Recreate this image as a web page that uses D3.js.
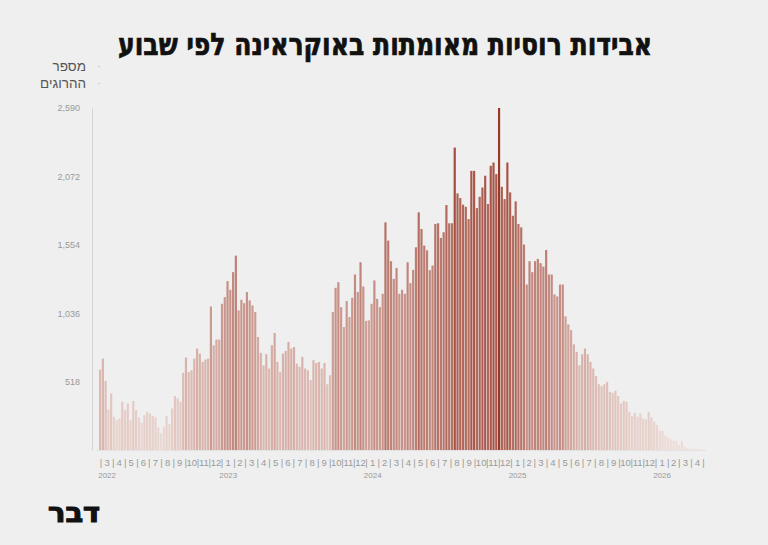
<!DOCTYPE html>
<html>
<head>
<meta charset="utf-8">
<script src="https://cdn.jsdelivr.net/npm/d3@7"></script>
<style>
  html, body { margin: 0; padding: 0; background: #efefef; }
  svg { display: block; }
</style>
</head>
<body>
<svg id="chart" width="768" height="545"></svg>
<script>
// Weekly confirmed Russian deaths, weeks starting 2022-02-24
const startWeek = "2022-02-24";
const weeklyDeaths = [
  609, 692, 523, 307, 428, 252, 226, 239, 365, 302,
  352, 226, 372, 302, 247, 206, 264, 289, 277, 257,
  247, 171, 126, 176, 257, 196, 315, 408, 390, 365,
  584, 700, 591, 604, 692, 768, 730, 667, 685, 692,
  1087, 793, 836, 836, 1107, 1158, 1279, 1213, 1347, 1472,
  1057, 1138, 1112, 1196, 1133, 1095, 1045, 856, 735, 640,
  725, 617, 793, 886, 667, 591, 730, 750, 818, 768,
  780, 654, 629, 705, 617, 604, 529, 680, 659, 667,
  617, 659, 498, 566, 1045, 1228, 1271, 1082, 931, 1128,
  1007, 1153, 1329, 1196, 1422, 1238, 977, 982, 1107, 1284,
  1145, 1082, 1183, 1724, 1586, 1430, 1296, 1379, 1183, 1213,
  1183, 1422, 1264, 1364, 1535, 1800, 1674, 1548, 1512, 1362,
  1397, 1712, 1717, 1606, 1649, 1855, 1717, 1717, 2290, 1943,
  1908, 1858, 1842, 1749, 2114, 2114, 1832, 1918, 1988, 2077,
  1863, 2152, 2177, 2089, 2590, 1993, 1900, 2177, 1951, 1774,
  1883, 1712, 1686, 1556, 1253, 1430, 1347, 1430, 1447, 1415,
  1389, 1515, 1329, 1329, 1178, 1163, 1253, 1253, 1012, 951,
  908, 800, 743, 642, 725, 768, 725, 667, 617, 559,
  498, 483, 498, 516, 440, 433, 448, 408, 352, 372,
  365, 289, 257, 282, 252, 277, 239, 232, 289, 247,
  214, 189, 146, 146, 106, 96, 81, 70, 70, 38,
  70, 25, 13, 13, 10, 8, 8, 5
];
const yTicks = [518, 1036, 1554, 2072, 2590];
const yTickLabels = ["518", "1,036", "1,554", "2,072", "2,590"];
const years = ["2022", "2023", "2024", "2025", "2026"];
const titleText = "אבידות רוסיות מאומתות באוקראינה לפי שבוע";
const yTitleLines = ["מספר", "ההרוגים"];
const logoText = "דבר";

const svg = d3.select("#chart");
const W = 768, H = 545;
svg.append("rect").attr("width", W).attr("height", H).attr("fill", "#efefef");

const parse = d3.utcParse("%Y-%m-%d");
const t0 = parse(startWeek);
const data = weeklyDeaths.map((v, i) => ({ date: d3.utcDay.offset(t0, 7 * i), value: v }));
const tEnd = d3.utcDay.offset(t0, 7 * weeklyDeaths.length);

const x = d3.scaleUtc().domain([t0, tEnd]).range([99, 703]);
const y = d3.scaleLinear().domain([0, 2590]).range([450, 108]);
const color = d3.scaleLinear().domain([0, 2590]).range(["#f0e1dd", "#983828"]).interpolate(d3.interpolateRgb);

// Title
svg.append("text")
  .attr("x", 385).attr("y", 55)
  .attr("text-anchor", "middle")
  .attr("direction", "rtl")
  .attr("font-family", "DejaVu Sans Condensed, DejaVu Sans, sans-serif")
  .attr("font-weight", "bold")
  .attr("font-size", 31)
  .attr("textLength", 534)
  .attr("lengthAdjust", "spacingAndGlyphs")
  .attr("fill", "#111")
  .attr("stroke", "#111")
  .attr("stroke-width", 0.7)
  .text(titleText);

// Y axis title
yTitleLines.forEach((t, i) => {
  svg.append("text")
    .attr("x", 86).attr("y", 71 + i * 17)
    .attr("text-anchor", "end")
    .attr("font-family", "Liberation Sans, Arial, sans-serif")
    .attr("font-size", 13.5)
    .attr("fill", "#555")
    .text(t);
  svg.append("text")
    .attr("x", 99).attr("y", 69 + i * 17)
    .attr("text-anchor", "middle")
    .attr("font-family", "Liberation Sans, Arial, sans-serif")
    .attr("font-size", 9)
    .attr("fill", "#aaa")
    .text("·");
});

// Y axis
const yAxis = d3.axisLeft(y).tickValues(yTicks).tickSize(0).tickPadding(12)
  .tickFormat((d, i) => yTickLabels[i]);
const gy = svg.append("g").attr("transform", "translate(92,0)").call(yAxis);
gy.select(".domain").attr("stroke", "#d4d4d4").attr("stroke-width", 1);
gy.selectAll("text")
  .attr("font-family", "Liberation Sans, Arial, sans-serif")
  .attr("font-size", 9)
  .attr("fill", "#999");

// Bars
const step = x(d3.utcDay.offset(t0, 7)) - x(t0);
svg.append("g").selectAll("rect").data(data).join("rect")
  .attr("x", d => x(d.date))
  .attr("width", step - 0.6)
  .attr("y", d => y(d.value))
  .attr("height", d => y(0) - y(d.value))
  .attr("fill", d => color(d.value));

// baseline
svg.append("line")
  .attr("x1", 96).attr("x2", 706)
  .attr("y1", y(0) + 0.5).attr("y2", y(0) + 0.5)
  .attr("stroke", "#e2e2e2").attr("stroke-width", 1);

// X axis: month numbers with separators
const months = d3.utcMonth.range(d3.utcMonth.ceil(t0), tEnd);
const gx = svg.append("g")
  .attr("font-family", "Liberation Sans, Arial, sans-serif")
  .attr("font-size", 9.5)
  .attr("fill", "#999");
const sepDates = months.concat([d3.utcMonth.offset(months[months.length - 1], 1)]);
gx.selectAll("text.sep").data(sepDates).join("text")
  .attr("class", "sep")
  .attr("x", d => x(d))
  .attr("y", 466)
  .attr("text-anchor", "middle")
  .text("|");
gx.selectAll("text.mon").data(months).join("text")
  .attr("class", "mon")
  .attr("x", d => (x(d) + x(d3.utcMonth.offset(d, 1))) / 2)
  .attr("y", 466)
  .attr("text-anchor", "middle")
  .text(d => d.getUTCMonth() + 1);

// Year labels
const yearAnchors = [months[0]].concat(months.filter(d => d.getUTCMonth() === 0));
svg.append("g").selectAll("text").data(yearAnchors).join("text")
  .attr("x", d => (x(d) + x(d3.utcMonth.offset(d, 1))) / 2)
  .attr("y", 478)
  .attr("text-anchor", "middle")
  .attr("font-family", "Liberation Sans, Arial, sans-serif")
  .attr("font-size", 8)
  .attr("fill", "#999")
  .text((d, i) => years[i]);

// Logo
svg.append("text")
  .attr("x", 74).attr("y", 522)
  .attr("text-anchor", "middle")
  .attr("direction", "rtl")
  .attr("font-family", "DejaVu Sans, sans-serif")
  .attr("font-weight", "bold")
  .attr("font-size", 27)
  .attr("textLength", 52)
  .attr("lengthAdjust", "spacingAndGlyphs")
  .attr("fill", "#111")
  .attr("stroke", "#111")
  .attr("stroke-width", 1.2)
  .text(logoText);
</script>
</body>
</html>
